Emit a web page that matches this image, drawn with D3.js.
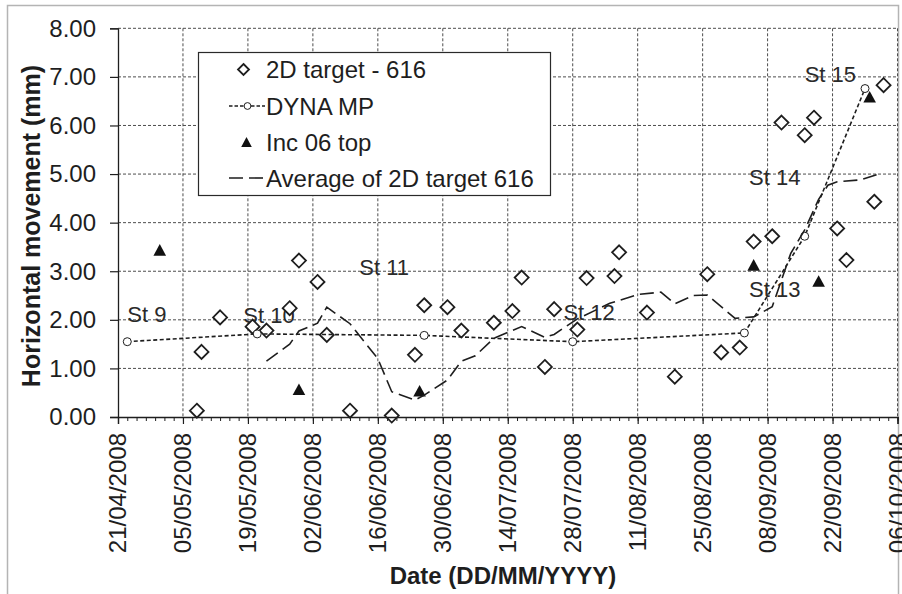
<!DOCTYPE html>
<html>
<head>
<meta charset="utf-8">
<script src="https://cdn.jsdelivr.net/npm/d3@7"></script>
<style>
  body { margin: 0; background: #fff; }
  svg { display: block; }
  text { font-family: "Liberation Sans", Arial, Helvetica, sans-serif; fill: #1e1e1e; }
</style>
</head>
<body>
<svg id="chart" width="902" height="594"></svg>
<script>
// 2D target - 616 survey readings
const targetDates = ["2008-05-08","2008-05-09","2008-05-13","2008-05-20","2008-05-23","2008-05-28","2008-05-30",
  "2008-06-03","2008-06-05","2008-06-10","2008-06-19","2008-06-24","2008-06-26","2008-07-01","2008-07-04",
  "2008-07-11","2008-07-15","2008-07-17","2008-07-22","2008-07-24","2008-07-29","2008-07-31","2008-08-06",
  "2008-08-07","2008-08-13","2008-08-19","2008-08-26","2008-08-29","2008-09-02","2008-09-05","2008-09-09",
  "2008-09-11","2008-09-16","2008-09-18","2008-09-23","2008-09-25","2008-10-01","2008-10-03"];
const targetValues = [0.13,1.34,2.05,1.86,1.78,2.24,3.22,
  2.78,1.69,0.13,0.03,1.28,2.30,2.26,1.78,
  1.94,2.18,2.87,1.03,2.22,1.80,2.86,2.90,
  3.39,2.15,0.83,2.94,1.33,1.43,3.61,3.72,
  6.06,5.80,6.16,3.88,3.23,4.43,6.83];

// DYNA MP model prediction at each stage
const dynaDates = ["2008-04-23","2008-05-21","2008-06-26","2008-07-28","2008-09-03","2008-09-16","2008-09-29"];
const dynaValues = [1.55,1.71,1.68,1.55,1.73,3.72,6.76];

// Inclinometer 06, top reading
const incDates = ["2008-04-30","2008-05-30","2008-06-25","2008-09-05","2008-09-19","2008-09-30"];
const incValues = [3.44,0.57,0.54,3.13,2.80,6.59];

// Moving average of the 2D target readings
const avgDates = ["2008-05-23","2008-05-28","2008-05-30","2008-06-03","2008-06-05","2008-06-10","2008-06-16",
  "2008-06-19","2008-06-24","2008-06-26","2008-07-01","2008-07-04","2008-07-07","2008-07-11","2008-07-17",
  "2008-07-22","2008-07-24","2008-07-29","2008-08-05","2008-08-11","2008-08-16","2008-08-19","2008-08-23",
  "2008-08-26","2008-09-01","2008-09-05","2008-09-09","2008-09-13","2008-09-16","2008-09-19","2008-09-21",
  "2008-09-23","2008-09-28","2008-10-02"];
const avgValues = [1.15,1.50,1.77,1.93,2.26,1.92,1.20,
  0.52,0.35,0.45,0.76,1.15,1.26,1.62,1.86,
  1.64,1.70,2.02,2.34,2.52,2.57,2.33,2.50,
  2.51,2.03,2.06,2.27,3.37,3.85,4.48,4.77,
  4.84,4.88,5.00];

// Construction stage annotations (left edge, baseline)
const stageNames = ["St 9","St 10","St 11","St 12","St 13","St 14","St 15"];
const stageDates = ["2008-04-23","2008-05-18","2008-06-12","2008-07-26","2008-09-04","2008-09-04","2008-09-16"];
const stageValues = [1.96,1.93,2.92,2.00,2.48,4.77,6.90];

// Axis ticks
const xTickDates = ["2008-04-21","2008-05-05","2008-05-19","2008-06-02","2008-06-16","2008-06-30","2008-07-14",
  "2008-07-28","2008-08-11","2008-08-25","2008-09-08","2008-09-22","2008-10-06"];
const yTicks = [0,1,2,3,4,5,6,7,8];

const legendLabels = ["2D target - 616","DYNA MP","Inc 06 top","Average of 2D target 616"];

const parse = d3.utcParse("%Y-%m-%d");
const fmt = d3.utcFormat("%d/%m/%Y");
const ink = "#1e1e1e";

const svg = d3.select("#chart");

// outer frame
svg.append("rect").attr("x", 7.5).attr("y", 5.5).attr("width", 891).attr("height", 600)
  .attr("fill", "none").attr("stroke", "#b4b4b4").attr("stroke-width", 1.5);

const plotL = 118, plotR = 897.5, plotT = 28.3, plotB = 417;
const x = d3.scaleUtc().domain([parse("2008-04-21"), parse("2008-10-06")]).range([plotL, plotR]);
const y = d3.scaleLinear().domain([0, 8]).range([plotB, plotT]);

// gridlines
const grid = svg.append("g").attr("stroke", "#3a3a3a").attr("stroke-width", 0.9)
  .attr("stroke-dasharray", "3,2").attr("fill", "none");
grid.selectAll("line.h").data(yTicks.filter(v => v > 0)).join("line")
  .attr("x1", plotL).attr("x2", plotR).attr("y1", d => y(d)).attr("y2", d => y(d));
grid.selectAll("line.v").data(xTickDates.slice(1)).join("line")
  .attr("x1", d => x(parse(d))).attr("x2", d => x(parse(d))).attr("y1", plotT).attr("y2", plotB);

// stage labels
svg.append("g").selectAll("text").data(stageNames).join("text")
  .attr("x", (d, i) => x(parse(stageDates[i])))
  .attr("y", (d, i) => y(stageValues[i]))
  .attr("font-size", 22).style("fill", "#2a2a2a")
  .text(d => d);

// 2D target diamonds
const dia = 7;
svg.append("g").selectAll("path").data(targetValues).join("path")
  .attr("d", `M0,${-dia}L${dia},0L0,${dia}L${-dia},0Z`)
  .attr("transform", (d, i) => `translate(${x(parse(targetDates[i]))},${y(d)})`)
  .attr("fill", "#fff").attr("stroke", ink).attr("stroke-width", 1.8);

// DYNA MP line and circles
const dyna = dynaDates.map((d, i) => [parse(d), dynaValues[i]]);
svg.append("path").datum(dyna)
  .attr("d", d3.line().x(d => x(d[0])).y(d => y(d[1])))
  .attr("fill", "none").attr("stroke", ink).attr("stroke-width", 1.6).attr("stroke-dasharray", "4,2.5");
svg.append("g").selectAll("circle").data(dyna).join("circle")
  .attr("cx", d => x(d[0])).attr("cy", d => y(d[1])).attr("r", 4)
  .attr("fill", "#fff").attr("stroke", ink).attr("stroke-width", 1);

// Inc 06 triangles
const tw = 6.3, th = 5.8;
svg.append("g").selectAll("path").data(incValues).join("path")
  .attr("d", `M0,${-th}L${tw},${th}L${-tw},${th}Z`)
  .attr("transform", (d, i) => `translate(${x(parse(incDates[i]))},${y(d)})`)
  .attr("fill", "#111");

// moving average line
const avg = avgDates.map((d, i) => [parse(d), avgValues[i]]);
svg.append("path").datum(avg)
  .attr("d", d3.line().x(d => x(d[0])).y(d => y(d[1])))
  .attr("fill", "none").attr("stroke", ink).attr("stroke-width", 1.6).attr("stroke-dasharray", "14,6");

// x axis
const xAxis = svg.append("g").attr("transform", `translate(0,${plotB})`)
  .call(d3.axisBottom(x).tickValues(xTickDates.map(parse)).tickSize(7).tickFormat(""));
xAxis.select(".domain").attr("stroke", ink).attr("stroke-width", 1.3);
xAxis.selectAll(".tick line").attr("stroke", ink).attr("stroke-width", 1.2);
svg.append("g").attr("transform", `translate(0,${plotB})`)
  .call(d3.axisBottom(x).tickValues(
      d3.utcDay.range(parse("2008-04-21"), parse("2008-10-07"), 2)).tickSize(4).tickFormat(""))
  .call(g => g.select(".domain").remove())
  .selectAll(".tick line").attr("stroke", ink).attr("stroke-width", 1);

svg.append("g").selectAll("text").data(xTickDates).join("text")
  .attr("transform", d => `translate(${x(parse(d))},433) rotate(-90)`)
  .attr("text-anchor", "end").attr("dy", "0.35em").attr("font-size", 24)
  .text(d => fmt(parse(d)));

// y axis
const yAxis = svg.append("g").attr("transform", `translate(${plotL},0)`)
  .call(d3.axisLeft(y).tickValues(yTicks).tickSize(8).tickFormat(""));
yAxis.select(".domain").attr("stroke", ink).attr("stroke-width", 1.3);
yAxis.selectAll(".tick line").attr("stroke", ink).attr("stroke-width", 1.2);
svg.append("g").selectAll("text").data(yTicks).join("text")
  .attr("x", 96).attr("y", d => y(d)).attr("dy", "0.35em")
  .attr("text-anchor", "end").attr("font-size", 24)
  .text(d => d3.format(".2f")(d));

// axis titles
svg.append("text").attr("transform", "translate(40,226) rotate(-90)")
  .attr("text-anchor", "middle").attr("font-size", 25).attr("font-weight", "bold")
  .text("Horizontal movement (mm)");
svg.append("text").attr("x", 503).attr("y", 584)
  .attr("text-anchor", "middle").attr("font-size", 24).attr("font-weight", "bold")
  .text("Date (DD/MM/YYYY)");

// legend
const lg = svg.append("g");
const rowY = [69.5, 106, 142, 178];
lg.append("rect").attr("x", 198.5).attr("y", 52.5).attr("width", 352).attr("height", 143)
  .attr("fill", "#fff").attr("stroke", "#2a2a2a").attr("stroke-width", 1.2);
lg.append("path").attr("d", "M0,-5.5L5.5,0L0,5.5L-5.5,0Z")
  .attr("transform", `translate(243.5,${rowY[0]})`)
  .attr("fill", "#fff").attr("stroke", ink).attr("stroke-width", 1.8);
lg.append("line").attr("x1", 229).attr("x2", 265).attr("y1", rowY[1]).attr("y2", rowY[1])
  .attr("stroke", ink).attr("stroke-width", 1.3).attr("stroke-dasharray", "3.5,2");
lg.append("circle").attr("cx", 247.5).attr("cy", rowY[1]).attr("r", 3.4)
  .attr("fill", "#fff").attr("stroke", ink).attr("stroke-width", 1);
lg.append("path").attr("d", "M0,-5L5.3,5L-5.3,5Z")
  .attr("transform", `translate(246.5,${rowY[2]})`).attr("fill", "#111");
lg.append("line").attr("x1", 229).attr("x2", 264).attr("y1", rowY[3]).attr("y2", rowY[3])
  .attr("stroke", ink).attr("stroke-width", 1.6).attr("stroke-dasharray", "14,6");
lg.selectAll("text.lab").data(legendLabels).join("text")
  .attr("x", 266).attr("y", (d, i) => rowY[i]).attr("dy", "0.36em")
  .attr("font-size", 24).text(d => d);
</script>
</body>
</html>
